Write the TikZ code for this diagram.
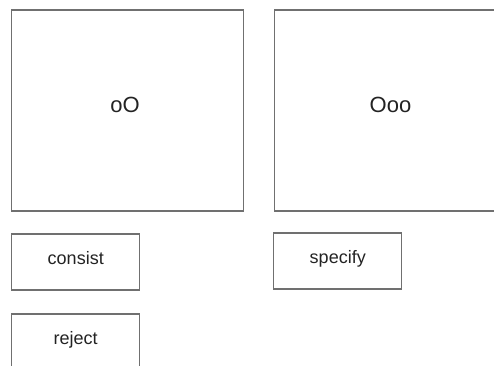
\documentclass[tikz,border=0pt]{standalone}
\usepackage{fontspec}
\setmainfont{Liberation Sans}
\definecolor{edge}{RGB}{112,112,112}
\definecolor{ink}{RGB}{35,35,35}
\begin{document}
\begin{tikzpicture}[x=1pt,y=-1pt,
  box/.style={draw=edge, line width=1.3pt, inner sep=0pt, text=ink},
  bigbox/.style={box, minimum width=232pt, minimum height=201pt, font=\fontsize{22}{24}\selectfont},
  smallbox/.style={box, minimum width=128pt, minimum height=56pt, text height=13pt, text depth=9pt, font=\fontsize{18}{20}\selectfont}]
\useasboundingbox (0,0) rectangle (494,365);
\begin{scope}
\clip (0,0) rectangle (494,365);
\node[bigbox] (oO) at (127.5,110.5) {};
\node[bigbox] (Ooo) at (390.5,110.5) {};
\node[font=\fontsize{22}{24}\selectfont, text=ink] (oOt) at (125,105) {oO};
\node[font=\fontsize{22}{24}\selectfont, text=ink] (Ooot) at (390.5,105) {Ooo};
\node[smallbox] (consist) at (75.75,262) {consist};
\node[smallbox] (specify) at (337.75,261) {specify};
\node[smallbox] (reject) at (75.75,342) {reject};
\end{scope}
\end{tikzpicture}
\end{document}
